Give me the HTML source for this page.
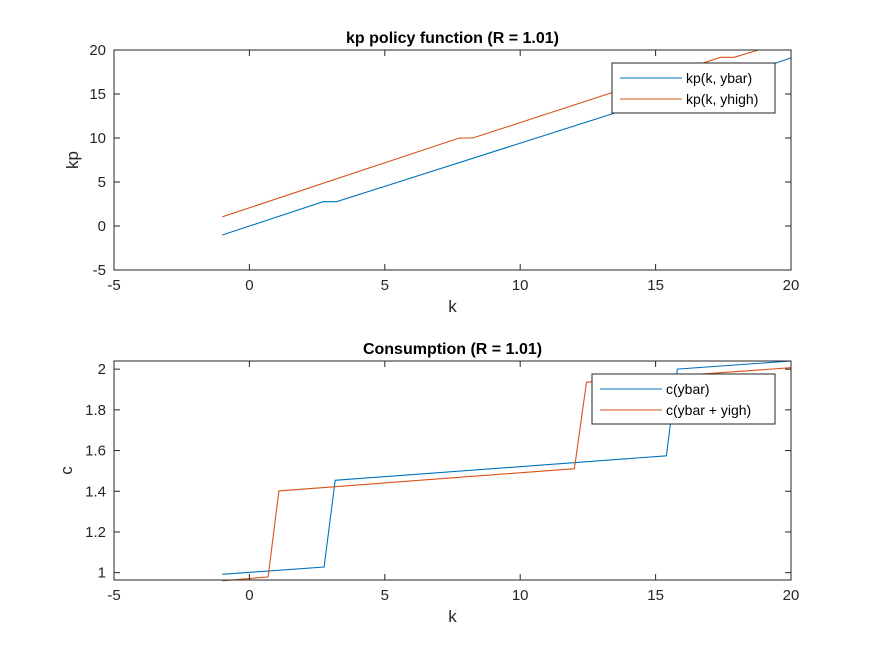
<!DOCTYPE html>
<html><head><meta charset="utf-8"><style>
body{margin:0;background:#fff}
svg{display:block;font-family:"Liberation Sans",Arial,sans-serif}
</style></head><body>
<svg id="fig" width="875" height="656" viewBox="0 0 875 656">
<rect width="875" height="656" fill="#fff"/>
</svg>
<script>
// top chart data
const kpYbarK = [-1, 2.72, 3.22, 15.4, 15.8, 20];
const kpYbarV = [-1.02, 2.76, 2.76, 14.7, 14.7, 19.1];
const kpYhighK = [-1, 7.75, 8.25, 17.4, 17.9, 18.8, 20];
const kpYhighV = [1.05, 10, 10, 19.17, 19.17, 20, 20];
const xTicks = [-5, 0, 5, 10, 15, 20];
const kpTicks = [-5, 0, 5, 10, 15, 20];
// bottom chart data
const cYbarK = [-1, 2.76, 3.17, 15.4, 15.8, 20];
const cYbarV = [0.992, 1.028, 1.454, 1.574, 2.0, 2.04];
const cYhighK = [-1, 0.69, 1.09, 12.0, 12.45, 20];
const cYhighV = [0.96, 0.979, 1.402, 1.511, 1.936, 2.007];
const cTicks = [1, 1.2, 1.4, 1.6, 1.8, 2];
const cTickLabels = ["1", "1.2", "1.4", "1.6", "1.8", "2"];

const NS = "http://www.w3.org/2000/svg";
const svg = document.getElementById("fig");
function mk(tag, attrs, parent){const e=document.createElementNS(NS,tag);for(const k in attrs)e.setAttribute(k,attrs[k]);(parent||svg).appendChild(e);return e;}

function axes(o){
  const g = mk("g",{});
  
  
  const X = v => o.x0 + (v - o.xmin) / (o.xmax - o.xmin) * (o.x1 - o.x0);
  const Y = v => o.y1 - (v - o.ymin) / (o.ymax - o.ymin) * (o.y1 - o.y0);
  // series
  o.series.forEach(s=>{
    const pts = s.k.map((k,i)=>X(k).toFixed(1)+","+Y(s.v[i]).toFixed(1)).join(" ");
    const p = mk("polyline",{points:pts,fill:"none",stroke:s.color,"stroke-width":1.1},g);
    
    
  });
  // box
  const box = mk("rect",{x:o.x0,y:o.y0,width:o.x1-o.x0,height:o.y1-o.y0,fill:"none",stroke:"#262626","stroke-width":1},g);
  
  
  // x ticks
  xTicks.forEach(t=>{
    const x = X(t);
    mk("line",{x1:x,x2:x,y1:o.y1,y2:o.y1-6,stroke:"#262626"},g);
    mk("line",{x1:x,x2:x,y1:o.y0,y2:o.y0+6,stroke:"#262626"},g);
    const tx = mk("text",{x:x,y:o.y1+20,"text-anchor":"middle","font-size":15,fill:"#262626"},g);
    tx.textContent = String(t);
    
    
  });
  o.yTicks.forEach((t,i)=>{
    const y = Y(t);
    mk("line",{x1:o.x0,x2:o.x0+6,y1:y,y2:y,stroke:"#262626"},g);
    mk("line",{x1:o.x1,x2:o.x1-6,y1:y,y2:y,stroke:"#262626"},g);
    const tx = mk("text",{x:o.x0-8,y:y+5,"text-anchor":"end","font-size":15,fill:"#262626"},g);
    tx.textContent = o.yLabels ? o.yLabels[i] : String(t);
    
    
  });
  const t = mk("text",{x:(o.x0+o.x1)/2,y:o.y0-7,"text-anchor":"middle","font-size":16,"font-weight":"bold",fill:"#000"},g);
  t.textContent = o.title;
  
  
  const xl = mk("text",{x:(o.x0+o.x1)/2,y:o.y1+42,"text-anchor":"middle","font-size":17,fill:"#262626"},g);
  xl.textContent = "k";
  
  
  const yc = (o.y0+o.y1)/2;
  const yl = mk("text",{x:o.ylx,y:yc,"text-anchor":"middle","font-size":17,fill:"#262626",transform:`rotate(-90 ${o.ylx} ${yc})`},g);
  yl.textContent = o.ylabel;
  
  
  // legend
  const L = o.legend;
  const lg = mk("g",{},g);
  
  
  mk("rect",{x:L.x,y:L.y,width:L.w,height:50,fill:"#fff",stroke:"#262626","stroke-width":1},lg);
  o.series.forEach((s,i)=>{
    const yy = L.y+15+i*21;
    const e = mk("g",{},lg);
    
    
    mk("line",{x1:L.x+8,x2:L.x+L.lineW,y1:yy,y2:yy,stroke:s.color,"stroke-width":1.1},e);
    const tx = mk("text",{x:L.x+L.lineW+4,y:yy+5,"font-size":14,fill:"#000"},e);
    tx.textContent = s.label;
  });
}

axes({name:"kp-policy-axes",x0:114,x1:791,y0:50,y1:270,xmin:-5,xmax:20,ymin:-5,ymax:20,
  yTicks:kpTicks,title:"kp policy function (R = 1.01)",ylabel:"kp",ylx:78,
  legend:{x:612,y:63,w:163,lineW:70},
  series:[{name:"kp-ybar-line",label:"kp(k, ybar)",color:"#0072BD",k:kpYbarK,v:kpYbarV},
          {name:"kp-yhigh-line",label:"kp(k, yhigh)",color:"#D95319",k:kpYhighK,v:kpYhighV}]});

axes({name:"consumption-axes",x0:114,x1:791,y0:361,y1:580,xmin:-5,xmax:20,ymin:0.964,ymax:2.04,
  yTicks:cTicks,yLabels:cTickLabels,title:"Consumption (R = 1.01)",ylabel:"c",ylx:72,
  legend:{x:592,y:374,w:183,lineW:70},
  series:[{name:"c-ybar-line",label:"c(ybar)",color:"#0072BD",k:cYbarK,v:cYbarV},
          {name:"c-yhigh-line",label:"c(ybar + yigh)",color:"#D95319",k:cYhighK,v:cYhighV}]});
</script>
</body></html>
